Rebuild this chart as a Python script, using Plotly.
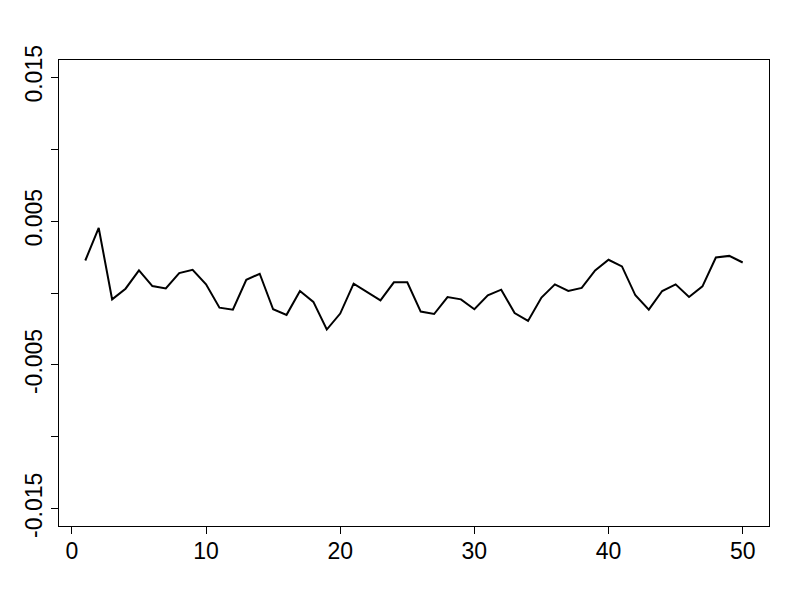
import plotly.graph_objects as go

x_vals = list(range(1, 51))
y_vals = [0.00226, 0.00452, -0.00044, 0.00030, 0.00157, 0.00048, 0.00032, 0.00138, 0.00161, 0.00060,
          -0.00102, -0.00116, 0.00092, 0.00134, -0.00113, -0.00152, 0.00014, -0.00062, -0.00254, -0.00143,
          0.00065, 0.00007, -0.00051, 0.00074, 0.00074, -0.00129, -0.00146, -0.00028, -0.00044, -0.00113,
          -0.00016, 0.00023, -0.00139, -0.00194, -0.00032, 0.00060, 0.00014, 0.00035, 0.00157, 0.00231,
          0.00185, -0.00016, -0.00116, 0.00014, 0.00060, -0.00028, 0.00046, 0.00247, 0.00258, 0.00212]

x_ticks = [0, 10, 20, 30, 40, 50]
y_ticks = [-0.015, -0.010, -0.005, 0.0, 0.005, 0.010, 0.015]
y_ticktext = ["-0.015", "", "-0.005", "", "0.005", "", "0.015"]

fig = go.Figure()
fig.add_trace(go.Scatter(x=x_vals, y=y_vals, mode="lines",
                         line=dict(color="black", width=2), showlegend=False))

axis_common = dict(showgrid=False, zeroline=False, showline=True, linecolor="black",
                   linewidth=1, mirror=True, ticks="outside", ticklen=7, tickwidth=1,
                   tickcolor="black", automargin=False,
                   tickfont=dict(family="Liberation Sans, Arial", size=23, color="black"))

fig.update_layout(
    width=800, height=600,
    margin=dict(l=59, r=31, t=60, b=74),
    plot_bgcolor="white", paper_bgcolor="white",
    xaxis=dict(range=[-0.96, 51.96], tickvals=x_ticks, ticklabelstandoff=-3, **axis_common),
    yaxis=dict(range=[-0.0162, 0.0162], tickvals=y_ticks, ticktext=y_ticktext,
               tickangle=-90, **axis_common),
)

fig.write_html("out.html", config={"displayModeBar": False},
               post_script="document.body.style.margin='0';document.body.style.overflow='hidden';")
